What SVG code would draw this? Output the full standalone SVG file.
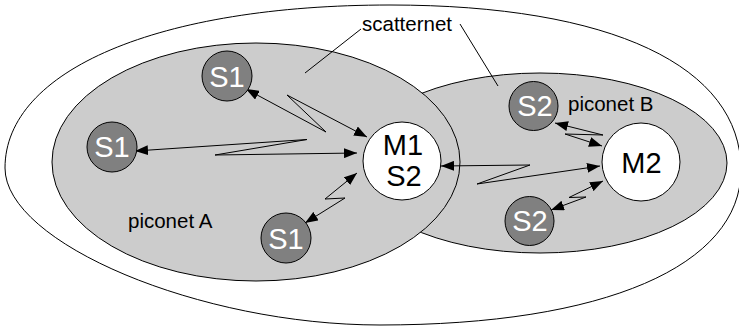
<svg xmlns="http://www.w3.org/2000/svg" width="739" height="326" viewBox="0 0 739 326">
  <defs>
    <style>
      .area { stroke: #000; stroke-width: 1; }
      .piconet { fill: #cccccc; }
      .slave { fill: #808080; stroke: #000; stroke-width: 1; }
      .master { fill: #ffffff; stroke: #000; stroke-width: 1; }
      .lbl { font-family: "Liberation Sans", Arial, sans-serif; font-size: 20.5px; fill: #000; }
      .node-w { font-family: "Liberation Sans", Arial, sans-serif; font-size: 29px; fill: #ffffff; text-anchor: middle; }
      .node-b { font-family: "Liberation Sans", Arial, sans-serif; font-size: 29px; fill: #000; text-anchor: middle; }
      .link { fill: none; stroke: #000; stroke-width: 1; marker-start: url(#arrow); marker-end: url(#arrow); }
      .leader { fill: none; stroke: #000; stroke-width: 1; }
    </style>
    <marker id="arrow" viewBox="0 0 13 10" refX="13" refY="5" markerWidth="13" markerHeight="10" markerUnits="userSpaceOnUse" orient="auto-start-reverse">
      <path d="M0,0 L13,5 L0,10 z" fill="#000"/>
    </marker>
  </defs>
  <rect width="739" height="326" fill="#ffffff"/>

  <g id="scatternet">
    <path class="area" fill="#ffffff" d="M5,168 C5,70 159,5 390,5 C611,5 741,66 741,170 C741,266 604,325 380,325 C200,325 5,243 5,168 Z"/>
  </g>
  <g id="piconet-b">
    <ellipse class="area piconet" cx="540" cy="163" rx="187" ry="90"/>
  </g>
  <g id="piconet-a">
    <ellipse class="area piconet" cx="256" cy="162" rx="204" ry="119"/>
  </g>

  <g id="labels">
    <text class="lbl" x="362" y="31">scatternet</text>
    <path class="leader" d="M361,29 L305,73 M460,24 L498,86"/>
    <text class="lbl" x="568" y="111">piconet B</text>
    <text class="lbl" x="128" y="228">piconet A</text>
  </g>

  <g id="connectors">
    <path class="link" d="M246,89 L326,132 L287,95 L367,137"/>
    <path class="link" d="M135,151 L307,139.5 L215,155 L357,153"/>
    <path class="link" d="M305,223 L345,198 L325,199 L357,173"/>
    <path class="link" d="M441,166 L530,165 L477,184 L600,166"/>
    <path class="link" d="M555,123 L603,135 L565,134 L602,146"/>
    <path class="link" d="M551,210 L586,197 L569,197.5 L603,181"/>
  </g>

  <g id="s1-top">
    <circle class="slave" cx="227" cy="76" r="25"/>
    <text class="node-w" x="227" y="87">S1</text>
  </g>
  <g id="s1-left">
    <circle class="slave" cx="112" cy="147" r="25"/>
    <text class="node-w" x="112" y="157">S1</text>
  </g>
  <g id="s1-bottom">
    <circle class="slave" cx="286" cy="238" r="25"/>
    <text class="node-w" x="286" y="249">S1</text>
  </g>
  <g id="m1-s2">
    <circle class="master" cx="402" cy="161" r="39"/>
    <text class="node-b" x="403" y="155">M1</text>
    <text class="node-b" x="404" y="186">S2</text>
  </g>
  <g id="m2">
    <circle class="master" cx="641" cy="162" r="39"/>
    <text class="node-b" x="641.5" y="173">M2</text>
  </g>
  <g id="s2-top">
    <circle class="slave" cx="533.5" cy="106" r="24.5"/>
    <text class="node-w" x="535" y="116">S2</text>
  </g>
  <g id="s2-bottom">
    <circle class="slave" cx="529.5" cy="221" r="24.5"/>
    <text class="node-w" x="530" y="231">S2</text>
  </g>
</svg>
